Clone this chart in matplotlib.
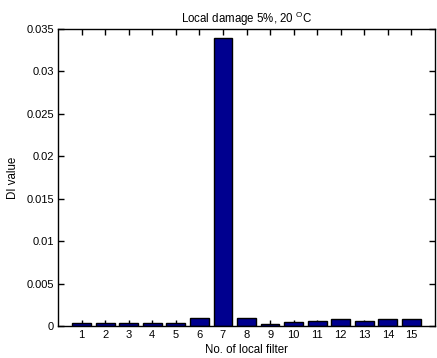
import matplotlib
matplotlib.use("Agg")
import matplotlib.pyplot as plt

filters = list(range(1, 16))
di_values = [0.0004, 0.0004, 0.0004, 0.0004, 0.0004, 0.00098, 0.0339, 0.00098,
             0.0002, 0.00043, 0.00058, 0.00078, 0.00058, 0.00078, 0.00078]
yticks = [0, 0.005, 0.01, 0.015, 0.02, 0.025, 0.03, 0.035]
ytick_labels = ['0', '0.005', '0.01', '0.015', '0.02', '0.025', '0.03', '0.035']

plt.rcParams['font.family'] = ['Liberation Sans', 'DejaVu Sans']
plt.rcParams['mathtext.fontset'] = 'custom'
plt.rcParams['mathtext.rm'] = 'Liberation Sans'
plt.rcParams['mathtext.it'] = 'Liberation Sans'

fig = plt.figure(figsize=(4.37, 3.58), dpi=100)
ax = fig.add_axes([58/437, 1-326/358, (435-58)/437, (326-29)/358])
ax.bar(filters, di_values, width=0.8, color='#00008F', edgecolor='black', linewidth=1.0, zorder=2)
ax.set_xlim(0, 16)
ax.set_ylim(0, 0.035)
ax.set_xticks(filters)
ax.set_xticklabels([str(f) for f in filters])
ax.set_yticks(yticks)
ax.set_yticklabels(ytick_labels)
ax.tick_params(direction='in', length=4.5, width=1.0, labelsize=8, top=True, right=True, pad=3)
for s in ax.spines.values():
    s.set_linewidth(1.0)
ax.set_title(r'Local damage 5%, 20 $^{\mathrm{O}}$C', fontsize=8.3, pad=4)
ax.set_xlabel('No. of local filter', fontsize=8.3, labelpad=3)
ax.set_ylabel('DI value', fontsize=8.3, labelpad=5)
fig.savefig('out.png', dpi=100)
